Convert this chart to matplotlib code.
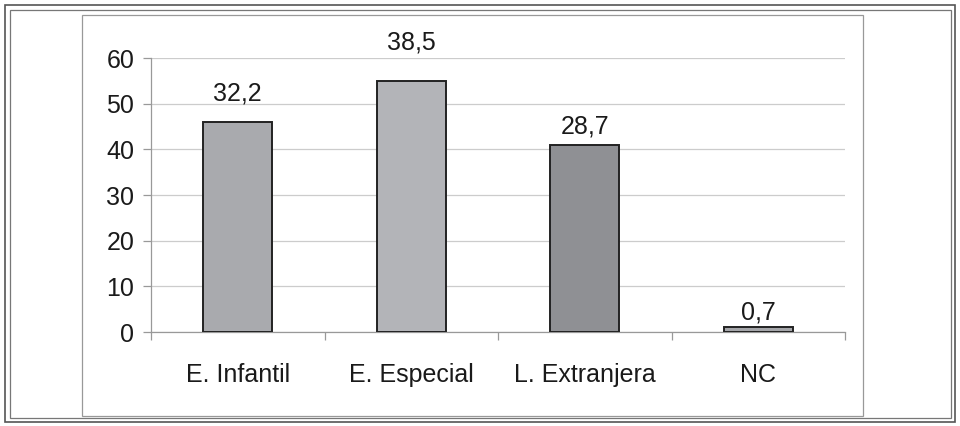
import matplotlib
matplotlib.use("Agg")
import matplotlib.pyplot as plt
from matplotlib.patches import Rectangle

# data
categories = ["E. Infantil", "E. Especial", "L. Extranjera", "NC"]
heights = [46, 55, 41, 1]
labels = ["32,2", "38,5", "28,7", "0,7"]
bar_colors = ["#a9aaae", "#b3b4b8", "#8f9094", "#a5a6aa"]
# label gap above each bar, in points (labels are not at the same distance)
label_offsets = [11.5, 19, 4.5, 2]

plt.rcParams["font.family"] = ["Liberation Sans", "DejaVu Sans"]

fig = plt.figure(figsize=(9.6, 4.26), dpi=100)
ax = fig.add_axes([151 / 960, 94 / 426, 694 / 960, 274 / 426])

# frames around the chart
W, H = 960, 426
def frame(x0, y0, x1, y1, color, lw):
    fig.patches.append(Rectangle((x0 / W, 1 - y1 / H), (x1 - x0) / W, (y1 - y0) / H,
                                 transform=fig.transFigure, fill=False,
                                 edgecolor=color, linewidth=lw))
frame(5, 5, 955, 422, "#555555", 1.2)
frame(10, 10, 951, 418, "#777777", 0.9)
frame(82, 15, 863, 416, "#999999", 0.9)

x = list(range(len(categories)))
bars = ax.bar(x, heights, width=0.4, color=bar_colors, edgecolor="#222222",
              linewidth=1.4, zorder=3)
for b, lab, off in zip(bars, labels, label_offsets):
    ax.annotate(lab, (b.get_x() + b.get_width() / 2, b.get_height()),
                xytext=(0, off), textcoords="offset points",
                ha="center", va="bottom", fontsize=18, color="#1a1a1a")

ax.set_xlim(-0.5, len(categories) - 0.5)
ax.set_ylim(0, 60)
ax.set_yticks(range(0, 61, 10))
ax.set_xticks(x)
ax.set_xticklabels(categories)
ax.set_xticks([i - 0.5 for i in range(len(categories) + 1)], minor=True)
ax.tick_params(axis="x", which="major", length=0, pad=22, labelsize=18, labelcolor="#1a1a1a")
ax.tick_params(axis="x", which="minor", length=6, color="#999999", width=0.9)
ax.tick_params(axis="y", length=6, color="#999999", width=0.9, pad=6,
               labelsize=18, labelcolor="#1a1a1a")
ax.grid(axis="y", color="#cccccc", linewidth=0.9, zorder=0)
for s in ["top", "right"]:
    ax.spines[s].set_visible(False)
for s in ["left", "bottom"]:
    ax.spines[s].set_color("#999999")
    ax.spines[s].set_linewidth(0.9)

fig.savefig("out.png", dpi=100)
